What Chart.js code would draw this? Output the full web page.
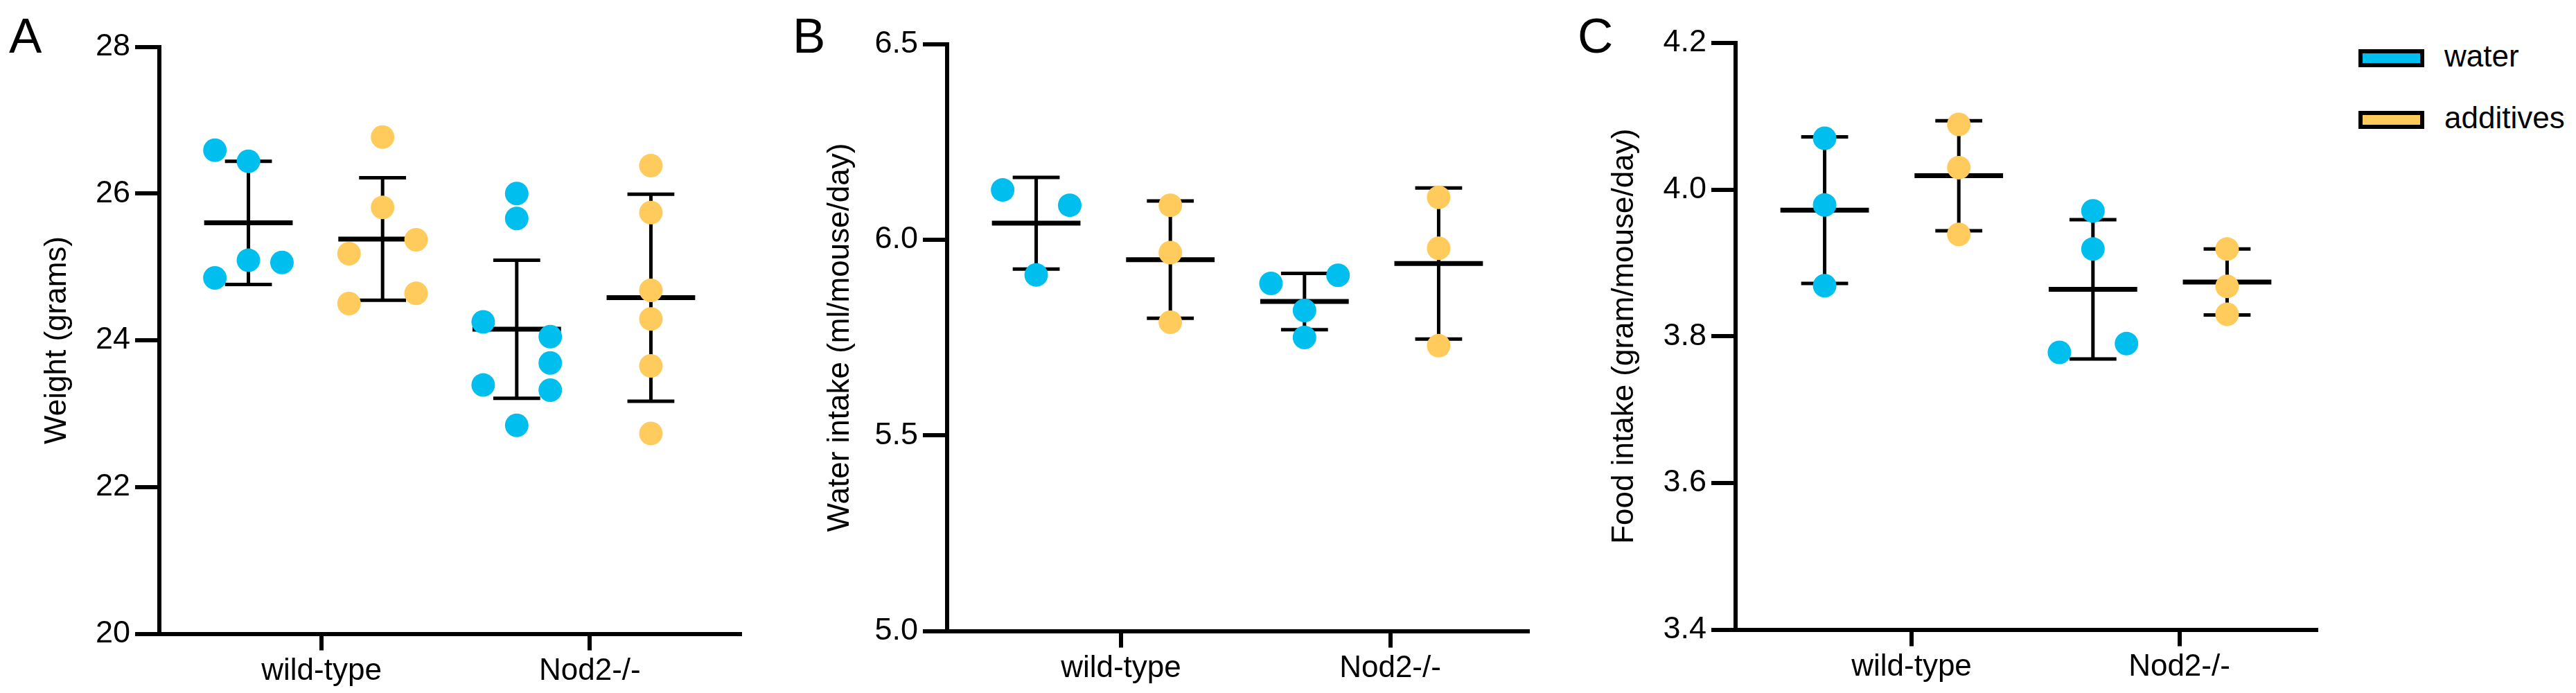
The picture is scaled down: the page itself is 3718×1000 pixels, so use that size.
<!DOCTYPE html>
<html>
<head>
<meta charset="utf-8">
<title>Weight, water intake and food intake</title>
<script src="https://cdn.jsdelivr.net/npm/chart.js@4.4.1/dist/chart.umd.min.js"></script>
<style>
  body {
    margin: 0;
    background: #fff;
    width: 3718px;
    height: 1000px;
    position: relative;
    overflow: hidden;
    font-family: "Liberation Sans", Arial, sans-serif;
    color: #000;
  }
  canvas { position: absolute; top: 0; }
  .panel-letter { position: absolute; top: 16px; font-size: 71px; line-height: 1; }
  #legend { position: absolute; left: 3404px; top: 71px; }
  .legend-item { position: absolute; left: 0; }
  .legend-box { position: absolute; left: 0; top: 0; width: 83px; height: 14px; border: 6px solid #000; }
  .legend-text { position: absolute; left: 124px; top: -12px; font-size: 44px; line-height: 1; white-space: nowrap; }
</style>
</head>
<body>
<div class="panel-letter" style="left:13px">A</div>
<div class="panel-letter" style="left:1144px">B</div>
<div class="panel-letter" style="left:2277px">C</div>
<canvas id="chartA" width="1058" height="1000" style="left:30px"></canvas>
<canvas id="chartB" width="1058" height="1000" style="left:1167px"></canvas>
<canvas id="chartC" width="1058" height="1000" style="left:2305px"></canvas>
<div id="legend"></div>

<script>
// categories and series
const genotypes = ['wild-type', 'Nod2-/-'];
const treatments = ['water', 'additives'];
const treatmentColors = ['#00BFEE', '#FECB5C'];

// A: body weight (grams), one inner array per genotype
const weightWater = [[26.59, 26.44, 25.09, 25.06, 24.85], [26.00, 25.66, 24.25, 24.05, 23.69, 23.39, 23.32, 22.84]];
const weightWaterLane = [[-1, 0, 0, 1, -1], [0, 0, -1, 1, 1, -1, 1, 0]];
const weightAdditives = [[26.77, 25.81, 25.37, 25.18, 24.64, 24.50], [26.38, 25.74, 24.68, 24.29, 23.65, 22.73]];
const weightAdditivesLane = [[0, 0, 1, -1, 1, -1], [0, 0, 0, 0, 0, 0]];
const weightMean = [[25.60, 24.15], [25.38, 24.58]];   // [water, additives] x genotype
const weightSd = [[0.84, 0.94], [0.835, 1.41]];
const weightTicks = [20, 22, 24, 26, 28];

// B: water intake (ml/mouse/day)
const waterIntakeWater = [[6.127, 6.088, 5.910], [5.888, 5.909, 5.819, 5.750]];
const waterIntakeWaterLane = [[-1, 1, 0], [-1, 1, 0, 0]];
const waterIntakeAdditives = [[6.088, 5.967, 5.789], [6.108, 5.978, 5.729]];
const waterIntakeAdditivesLane = [[0, 0, 0], [0, 0, 0]];
const waterIntakeMean = [[6.042, 5.842], [5.949, 5.939]];
const waterIntakeSd = [[0.117, 0.072], [0.150, 0.193]];
const waterIntakeTicks = [5.0, 5.5, 6.0, 6.5];

// C: food intake (gram/mouse/day)
const foodIntakeWater = [[4.070, 3.979, 3.869], [3.971, 3.919, 3.790, 3.778]];
const foodIntakeWaterLane = [[0, 0, 0], [0, 0, 1, -1]];
const foodIntakeAdditives = [[4.089, 4.030, 3.939], [3.919, 3.868, 3.830]];
const foodIntakeAdditivesLane = [[0, 0, 0], [0, 0, 0]];
const foodIntakeMean = [[3.972, 3.864], [4.019, 3.874]];
const foodIntakeSd = [[0.100, 0.095], [0.075, 0.045]];
const foodIntakeTicks = [3.4, 3.6, 3.8, 4.0, 4.2];

Chart.defaults.color = '#000';
Chart.defaults.font.family = '"Liberation Sans", Arial, sans-serif';

const laneStep = 0.25;   // horizontal distance between side-by-side points

// group centre on the x scale: wild-type water 1, additives 2, Nod2 water 3, additives 4
function groupX(g, s) {
    return 1 + 2 * g + s;
}

function buildPoints(values, lanes, s) {
    const pts = [];
    values.forEach((arr, g) => {
        arr.forEach((v, i) => pts.push({ x: groupX(g, s) + lanes[g][i] * laneStep, y: v }));
    });
    return pts;
}

// mean line and SD whiskers, drawn under the points
const meanSdPlugin = {
    id: 'meanSd',
    beforeDatasetsDraw(chart) {
        const { ctx, scales: { x, y } } = chart;
        ctx.save();
        ctx.strokeStyle = '#000';
        ctx.lineCap = 'butt';
        chart.data.datasets.forEach((ds, s) => {
            ds.mean.forEach((m, g) => {
                const c = groupX(g, s);
                const cx = x.getPixelForValue(c);
                const yTop = y.getPixelForValue(m + ds.sd[g]);
                const yBot = y.getPixelForValue(m - ds.sd[g]);
                const yMean = y.getPixelForValue(m);

                ctx.lineWidth = 5;
                ctx.beginPath();
                ctx.moveTo(cx, yTop);
                ctx.lineTo(cx, yBot);
                ctx.moveTo(x.getPixelForValue(c - 0.175), yTop);
                ctx.lineTo(x.getPixelForValue(c + 0.175), yTop);
                ctx.moveTo(x.getPixelForValue(c - 0.175), yBot);
                ctx.lineTo(x.getPixelForValue(c + 0.175), yBot);
                ctx.stroke();

                ctx.lineWidth = 7;
                ctx.beginPath();
                ctx.moveTo(x.getPixelForValue(c - 0.33), yMean);
                ctx.lineTo(x.getPixelForValue(c + 0.33), yMean);
                ctx.stroke();
            });
        });
        ctx.restore();
    }
};

function makeChart(canvasId, cfg) {
    const ctx = document.getElementById(canvasId).getContext('2d');
    const sets = [
        { values: cfg.water, lanes: cfg.waterLane, mean: cfg.mean[0], sd: cfg.sd[0] },
        { values: cfg.additives, lanes: cfg.additivesLane, mean: cfg.mean[1], sd: cfg.sd[1] }
    ];
    return new Chart(ctx, {
        type: 'scatter',
        data: {
            datasets: sets.map((st, s) => ({
                label: treatments[s],
                data: buildPoints(st.values, st.lanes, s),
                mean: st.mean,
                sd: st.sd,
                backgroundColor: treatmentColors[s],
                borderWidth: 0,
                pointRadius: 17,
                pointHoverRadius: 17
            }))
        },
        options: {
            responsive: false,
            animation: false,
            devicePixelRatio: 1,
            events: [],
            layout: { padding: { top: cfg.top, right: 20, bottom: 0, left: 0 } },
            plugins: {
                legend: { display: false },
                tooltip: { enabled: false }
            },
            scales: {
                x: {
                    type: 'linear',
                    min: 0.336,
                    max: 4.664,
                    afterFit: (scale) => { scale.height = 1000 - cfg.bottom; },
                    afterBuildTicks: (scale) => { scale.ticks = cfg.tickAt.map(v => ({ value: v })); },
                    ticks: {
                        autoSkip: false,
                        maxRotation: 0,
                        padding: 4,
                        font: { size: 44 },
                        callback: (value, index) => genotypes[index]
                    },
                    grid: {
                        drawOnChartArea: false,
                        tickLength: 24,
                        tickWidth: 6,
                        tickColor: '#000',
                        lineWidth: 6
                    },
                    border: { display: true, color: '#000', width: 6 }
                },
                y: {
                    min: cfg.yTicks[0],
                    max: cfg.yTicks[cfg.yTicks.length - 1],
                    afterFit: (scale) => { scale.width = 200; },
                    afterBuildTicks: (scale) => { scale.ticks = cfg.yTicks.map(v => ({ value: v })); },
                    ticks: {
                        padding: 7,
                        font: { size: 45 },
                        callback: (value) => value.toFixed(cfg.decimals)
                    },
                    grid: {
                        drawOnChartArea: false,
                        tickLength: 35,
                        tickWidth: 6,
                        tickColor: '#000',
                        lineWidth: 6
                    },
                    border: { display: true, color: '#000', width: 6 },
                    title: {
                        display: true,
                        text: cfg.yTitle,
                        font: { size: 44 },
                        padding: { top: cfg.titlePad, bottom: 0 }
                    }
                }
            }
        },
        plugins: [meanSdPlugin]
    });
}

makeChart('chartA', {
    yTitle: 'Weight (grams)', yTicks: weightTicks, decimals: 0,
    water: weightWater, waterLane: weightWaterLane,
    additives: weightAdditives, additivesLane: weightAdditivesLane,
    mean: weightMean, sd: weightSd,
    tickAt: [1.545, 3.545], top: 67.5, bottom: 914.5, titlePad: 26
});

makeChart('chartB', {
    yTitle: 'Water intake (ml/mouse/day)', yTicks: waterIntakeTicks, decimals: 1,
    water: waterIntakeWater, waterLane: waterIntakeWaterLane,
    additives: waterIntakeAdditives, additivesLane: waterIntakeAdditivesLane,
    mean: waterIntakeMean, sd: waterIntakeSd,
    tickAt: [1.632, 3.639], top: 63.5, bottom: 910.5, titlePad: 19
});

makeChart('chartC', {
    yTitle: 'Food intake (gram/mouse/day)', yTicks: foodIntakeTicks, decimals: 1,
    water: foodIntakeWater, waterLane: foodIntakeWaterLane,
    additives: foodIntakeAdditives, additivesLane: foodIntakeAdditivesLane,
    mean: foodIntakeMean, sd: foodIntakeSd,
    tickAt: [1.648, 3.644], top: 62, bottom: 908.5, titlePad: 13
});

// legend (water / additives) beside panel C
const legend = document.getElementById('legend');
treatments.forEach((name, i) => {
    const item = document.createElement('div');
    item.className = 'legend-item';
    item.style.top = (i * 89) + 'px';
    item.innerHTML = '<div class="legend-box" style="background:' + treatmentColors[i] + '"></div>' +
        '<div class="legend-text">' + name + '</div>';
    legend.appendChild(item);
});
</script>
</body>
</html>
